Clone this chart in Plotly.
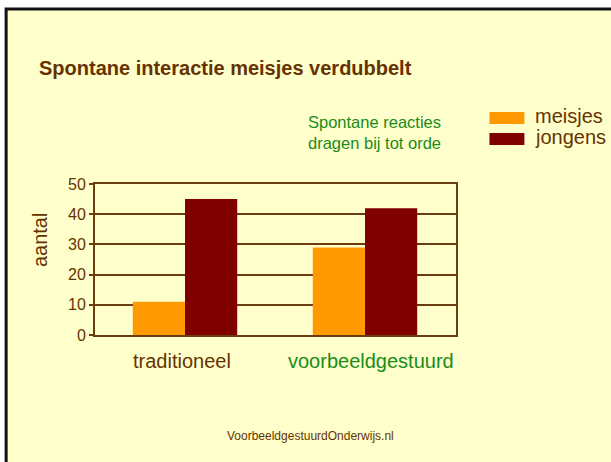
import plotly.graph_objects as go

categories = ["traditioneel", "voorbeeldgestuurd"]
series_names = ["meisjes", "jongens"]
meisjes = [11, 29]
jongens = [45, 42]
y_ticks = [0, 10, 20, 30, 40, 50]

ORANGE = "#FF9900"
MAROON = "#800000"
BG = "#FFFFCC"
BROWN = "#6B3C10"
TEXT_BROWN = "#663300"
GREEN = "#1A8C1A"

W, H = 611, 462
L, R, T, B = 95, 456.5, 184, 335


def px(x):
    return (x - L) / (R - L)


def py(y):
    return (B - y) / (B - T)


fig = go.Figure()
fig.add_trace(go.Bar(x=categories, y=meisjes, name=series_names[0],
                     marker=dict(color=ORANGE, line=dict(width=0)), showlegend=False))
fig.add_trace(go.Bar(x=categories, y=jongens, name=series_names[1],
                     marker=dict(color=MAROON, line=dict(width=0)), showlegend=False))

shapes = [
    dict(type="rect", xref="paper", yref="paper", x0=px(6), y0=py(9), x1=px(700), y1=py(600),
         fillcolor=BG, line=dict(color="#111111", width=3), layer="below"),
    dict(type="rect", xref="paper", yref="paper", x0=px(490), y0=py(112), x1=px(525), y1=py(124),
         fillcolor=ORANGE, line=dict(width=0)),
    dict(type="rect", xref="paper", yref="paper", x0=px(490), y0=py(133), x1=px(525), y1=py(145),
         fillcolor=MAROON, line=dict(width=0)),
]

font = "Liberation Sans, Arial, sans-serif"
annotations = [
    dict(text="<b>Spontane interactie meisjes verdubbelt</b>", xref="paper", yref="paper",
         x=px(37), y=py(68), xanchor="left", yanchor="middle", showarrow=False,
         font=dict(size=20, color=TEXT_BROWN, family=font)),
    dict(text="Spontane reacties<br>dragen bij tot orde", xref="paper", yref="paper",
         x=px(375), y=py(132), xanchor="center", yanchor="middle", showarrow=False,
         font=dict(size=16.5, color=GREEN, family=font)),
    dict(text=series_names[0], xref="paper", yref="paper", x=px(534), y=py(116),
         xanchor="left", yanchor="middle", showarrow=False,
         font=dict(size=20, color=TEXT_BROWN, family=font)),
    dict(text=series_names[1], xref="paper", yref="paper", x=px(534), y=py(137),
         xanchor="left", yanchor="middle", showarrow=False,
         font=dict(size=20, color=TEXT_BROWN, family=font)),
    dict(text=categories[0], xref="x", yref="paper", x=categories[0], y=py(361),
         xanchor="center", yanchor="middle", showarrow=False, xshift=-3,
         font=dict(size=20, color=TEXT_BROWN, family=font)),
    dict(text=categories[1], xref="x", yref="paper", x=categories[1], y=py(361),
         xanchor="center", yanchor="middle", showarrow=False, xshift=6,
         font=dict(size=20, color=GREEN, family=font)),
    dict(text="aantal", xref="paper", yref="paper", x=px(40), y=py(240),
         xanchor="center", yanchor="middle", showarrow=False, textangle=-90,
         font=dict(size=20, color=TEXT_BROWN, family=font)),
    dict(text="VoorbeeldgestuurdOnderwijs.nl", xref="paper", yref="paper",
         x=px(311), y=py(436), xanchor="center", yanchor="middle", showarrow=False,
         font=dict(size=12, color=TEXT_BROWN, family=font)),
]

fig.update_layout(
    width=W, height=H,
    margin=dict(l=L, r=W - R, t=T, b=H - B, pad=0),
    paper_bgcolor="white",
    plot_bgcolor="rgba(0,0,0,0)",
    barmode="group", bargap=0.42, bargroupgap=0,
    shapes=shapes, annotations=annotations,
    showlegend=False,
    font=dict(family=font, color=TEXT_BROWN),
    xaxis=dict(showticklabels=False, ticks="", showgrid=False, showline=True,
               linecolor=BROWN, linewidth=2, mirror=True, zeroline=False, fixedrange=True),
    yaxis=dict(range=[0, 50], tickvals=y_ticks, ticks="outside", ticklen=4, tickwidth=2,
               tickcolor=BROWN, showgrid=True, gridcolor=BROWN, gridwidth=2,
               showline=True, linecolor=BROWN, linewidth=2, mirror=True, zeroline=False,
               tickfont=dict(size=16, color=TEXT_BROWN, family=font), fixedrange=True),
)

fig.write_html("out.html", config={"displayModeBar": False},
               post_script="document.body.style.margin='0';document.body.style.overflow='hidden';")
